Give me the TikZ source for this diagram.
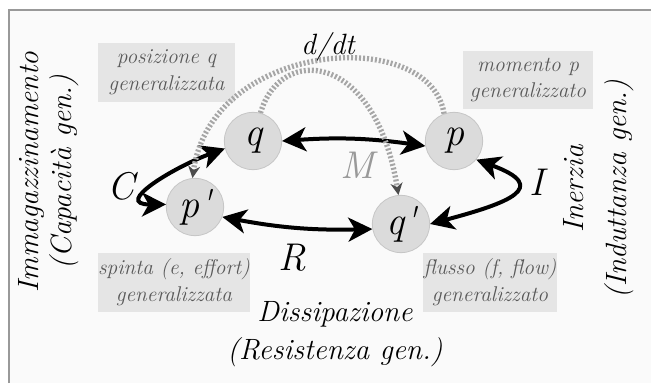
\documentclass[tikz,border=0pt]{standalone}
\usetikzlibrary{arrows.meta}

\begin{document}
\begin{tikzpicture}[x=0.75pt, y=0.75pt, >={Stealth[length=18pt,width=18pt,inset=5pt]},
  var/.style={circle, fill=gray!28, draw=gray!45, line width=0.6pt, minimum size=43pt, inner sep=0pt, font=\fontsize{30}{30}\selectfont\itshape},
  note/.style={fill=gray!20, text=black!65, align=center, inner sep=0pt, minimum height=44pt, font=\fontsize{16}{20}\selectfont\itshape},
  big/.style={align=center, font=\fontsize{22}{28.5}\selectfont\itshape},
  letter/.style={font=\fontsize{29}{30}\selectfont\itshape},
  link/.style={<->, line width=3pt},
  deriv/.style={gray!70, line width=4pt, dash pattern=on 1.5pt off 1.5pt, -{Stealth[length=9pt,width=9pt,color=black!70]}}]
\useasboundingbox (0,0) rectangle (651,383);
\fill[gray!4] (9,0) rectangle (651,373);
\draw[gray!80, line width=1.5pt] (9,0) |- (651,373);
\foreach \n/\x/\y/\t in {q/253/242/q, p/454/242/p, pp/195/176/p\textquotesingle, qq/401/159/q\textquotesingle}
  {\node[var] (\n) at (\x,\y) {\t};}
\node[big, font=\fontsize{22}{24}\selectfont\itshape] (dt) at (328,336) {d/dt};
\node[letter, text=gray!80] (M) at (357,218) {M};
\node[letter] (C) at (121,197) {C};
\node[letter] (I) at (537,201) {I};
\node[letter] (R) at (292,125) {R};
\node[note, minimum width=103pt] (posq) at (166.5,310.5) {posizione q\\generalizzata};
\node[note, minimum width=97.5pt] (momp) at (528,303) {momento p\\generalizzato};
\node[note, minimum width=114pt] (eff) at (174,100.5) {spinta (e, effort)\\generalizzata};
\node[note, minimum width=100.5pt] (flow) at (490,100.5) {flusso (f, flow)\\generalizzato};
\node[big] (diss) at (335,49) {Dissipazione\\(Resistenza gen.)};
\node[big, rotate=90, font=\fontsize{22}{24.75}\selectfont\itshape] (imm) at (48.5,211) {Immagazzinamento\\(Capacità gen.)};
\node[big, rotate=90, font=\fontsize{22}{32}\selectfont\itshape] (inr) at (598.5,194) {Inerzia\\(Induttanza gen.)};
\draw[link] (q.east) to[bend left=6] (p.190);
\draw[link] (pp.-20) to[bend right=6] (qq.190);
\draw[link] (pp.175) to[out=180,in=200,looseness=1.7] (q.195);
\draw[link] (qq.east) to[out=15,in=-20,looseness=2.6] (p.-40);
\draw[deriv] (p.110) .. controls (430,358) and (212,343) .. (pp.95);
\draw[deriv] (q.75) .. controls (280,338) and (375,333) .. (qq.95);
\end{tikzpicture}
\end{document}
